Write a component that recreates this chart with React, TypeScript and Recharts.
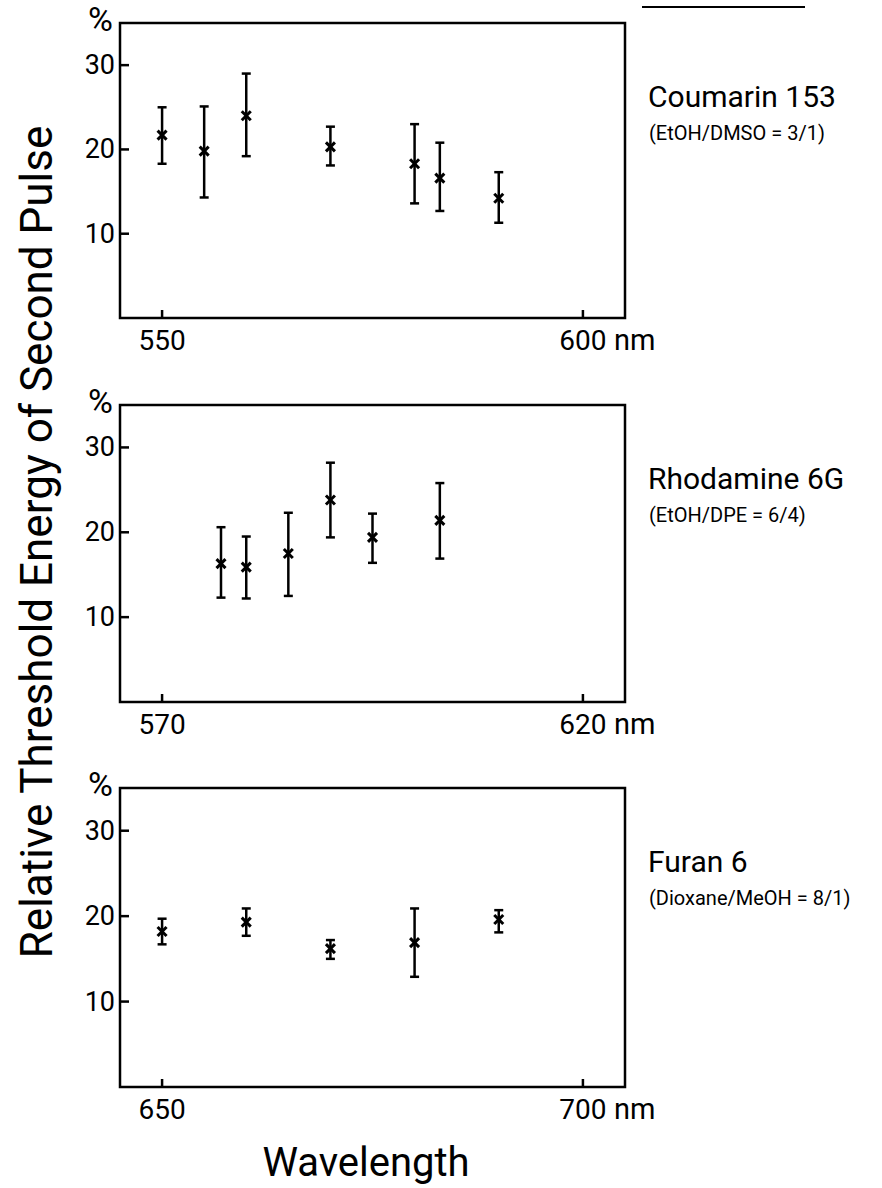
import React from 'react';
import { ScatterChart, Scatter, XAxis, YAxis, ErrorBar, ReferenceArea } from 'recharts';

const FONT = "Roboto, 'DejaVu Sans', Arial, sans-serif";

// Coumarin 153 (EtOH/DMSO = 3/1)
const c153Wavelength = [550, 555, 560, 570, 580, 583, 590];
const c153Mean = [21.7, 19.8, 24.0, 20.3, 18.3, 16.6, 14.2];
const c153Low = [18.3, 14.3, 19.2, 18.1, 13.6, 12.7, 11.3];
const c153High = [25.0, 25.1, 29.0, 22.7, 23.0, 20.8, 17.3];
const c153XTicks = [550, 600];

// Rhodamine 6G (EtOH/DPE = 6/4)
const r6gWavelength = [577, 580, 585, 590, 595, 603];
const r6gMean = [16.3, 15.9, 17.5, 23.8, 19.4, 21.4];
const r6gLow = [12.3, 12.2, 12.5, 19.4, 16.4, 16.9];
const r6gHigh = [20.6, 19.5, 22.3, 28.2, 22.2, 25.8];
const r6gXTicks = [570, 620];

// Furan 6 (Dioxane/MeOH = 8/1)
const f6Wavelength = [650, 660, 670, 680, 690];
const f6Mean = [18.2, 19.3, 16.2, 16.9, 19.6];
const f6Low = [16.7, 17.7, 15.0, 12.9, 18.1];
const f6High = [19.7, 20.9, 17.2, 20.9, 20.7];
const f6XTicks = [650, 700];

const yTicks = [10, 20, 30];
const yDomain: [number, number] = [0, 35];

const dyeNames = ['Coumarin 153', 'Rhodamine 6G', 'Furan 6'];
const solvents = ['(EtOH/DMSO = 3/1)', '(EtOH/DPE = 6/4)', '(Dioxane/MeOH = 8/1)'];

const LW = 2.5;

function buildRows(xs: number[], mean: number[], low: number[], high: number[]) {
  return xs.map((x, i) => ({ x, y: mean[i], err: [mean[i] - low[i], high[i] - mean[i]] }));
}

const XMark = (props: any) => {
  const { cx, cy } = props;
  const s = 4.5;
  return (
    <g>
      <line x1={cx - s} y1={cy - s} x2={cx + s} y2={cy + s} stroke="#000" strokeWidth={3} />
      <line x1={cx - s} y1={cy + s} x2={cx + s} y2={cy - s} stroke="#000" strokeWidth={3} />
    </g>
  );
};

const renderYTick = (p: any) => {
  const { x, y, payload } = p;
  return (
    <g>
      <line x1={x} x2={x + 9} y1={y} y2={y} stroke="#000" strokeWidth={LW} />
      <text x={x - 5} y={y} textAnchor="end" dominantBaseline="central" fontSize={27} fontFamily={FONT} fill="#000">
        {payload.value}
      </text>
    </g>
  );
};

const makeXTick = (lastValue: number) => (p: any) => {
  const { x, y, payload } = p;
  return (
    <g>
      <line x1={x} x2={x} y1={y} y2={y - 8} stroke="#000" strokeWidth={LW} />
      <text x={x} y={y + 32} textAnchor="middle" fontSize={28} fontFamily={FONT} fill="#000">
        {payload.value}
      </text>
      {payload.value === lastValue ? (
        <text x={x + 31} y={y + 32} textAnchor="start" fontSize={29} fontFamily={FONT} fill="#000">
          nm
        </text>
      ) : null}
    </g>
  );
};

type PanelProps = {
  xs: number[];
  mean: number[];
  low: number[];
  high: number[];
  xTicks: number[];
  boxTop: number;
  boxBottom: number;
};

const PLOT_LEFT = 120;
const PLOT_RIGHT = 625;
const W = 882;

const Panel = ({ xs, mean, low, high, xTicks, boxTop, boxBottom }: PanelProps) => {
  const rows = buildRows(xs, mean, low, high);
  const xDomain: [number, number] = [xTicks[0] - 5, xTicks[1] + 5];
  const mTop = 40;
  const mBottom = 60;
  const h = boxBottom - boxTop + mTop + mBottom;
  return (
    <div style={{ position: 'absolute', left: 0, top: boxTop - mTop, width: W, height: h }}>
      <ScatterChart
        width={W}
        height={h}
        margin={{ top: mTop, bottom: mBottom - 1, left: PLOT_LEFT - 1, right: W - PLOT_RIGHT }}
      >
        <XAxis
          type="number"
          dataKey="x"
          domain={xDomain}
          ticks={xTicks}
          interval={0}
          allowDataOverflow
          height={1}
          tickSize={0}
          tickMargin={0}
          axisLine={false}
          tickLine={false}
          tick={makeXTick(xTicks[1])}
        />
        <YAxis
          type="number"
          dataKey="y"
          domain={yDomain}
          ticks={yTicks}
          interval={0}
          allowDataOverflow
          width={1}
          tickSize={0}
          tickMargin={0}
          axisLine={false}
          tickLine={false}
          tick={renderYTick}
        />
        <ReferenceArea
          x1={xDomain[0]}
          x2={xDomain[1]}
          y1={yDomain[0]}
          y2={yDomain[1]}
          fill="none"
          fillOpacity={0}
          stroke="#000"
          strokeWidth={LW}
          ifOverflow="visible"
        />
        <Scatter data={rows} isAnimationActive={false} shape={XMark}>
          <ErrorBar dataKey="err" direction="y" width={4.5} stroke="#000" strokeWidth={LW} isAnimationActive={false} />
        </Scatter>
      </ScatterChart>
    </div>
  );
};

const panels = [
  { xs: c153Wavelength, mean: c153Mean, low: c153Low, high: c153High, xTicks: c153XTicks, boxTop: 23, boxBottom: 318 },
  { xs: r6gWavelength, mean: r6gMean, low: r6gLow, high: r6gHigh, xTicks: r6gXTicks, boxTop: 405, boxBottom: 702 },
  { xs: f6Wavelength, mean: f6Mean, low: f6Low, high: f6High, xTicks: f6XTicks, boxTop: 788, boxBottom: 1087 },
];

export default function App() {
  return (
    <div style={{ position: 'absolute', left: 0, top: 0, width: W, height: 1188, background: '#fff', overflow: 'hidden' }}>
      {panels.map((p, i) => (
        <Panel key={i} {...p} />
      ))}
      <svg width={W} height={1188} style={{ position: 'absolute', left: 0, top: 0, pointerEvents: 'none' }}>
        <line x1={642} x2={805} y1={7} y2={7} stroke="#000" strokeWidth={2} />
        <text
          x={52}
          y={542}
          transform="rotate(-90 52 542)"
          textAnchor="middle"
          fontSize={44}
          fontFamily={FONT}
          fill="#000"
        >
          Relative Threshold Energy of Second Pulse
        </text>
        <text x={366} y={1176} textAnchor="middle" fontSize={40} fontFamily={FONT} fill="#000">
          Wavelength
        </text>
        {panels.map((p, i) => (
          <g key={i}>
            <text x={113} y={p.boxTop + 8} textAnchor="end" fontSize={34} fontFamily={FONT} fill="#000">
              %
            </text>
            <text x={648} y={p.boxTop + 84} fontSize={30} fontFamily={FONT} fill="#000">
              {dyeNames[i]}
            </text>
            <text x={649} y={p.boxTop + 117} fontSize={20} fontFamily={FONT} fill="#000">
              {solvents[i]}
            </text>
          </g>
        ))}
      </svg>
    </div>
  );
}
